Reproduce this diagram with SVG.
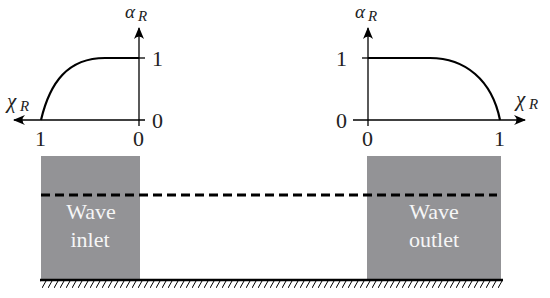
<svg xmlns="http://www.w3.org/2000/svg" width="550" height="298" viewBox="0 0 550 298">
<style>
.ax{stroke:#000;stroke-width:1.3;fill:none}
.cv{stroke:#000;stroke-width:2.2;fill:none}
.num{font-family:"Liberation Serif",serif;font-size:22px;fill:#222}
.sym{font-family:"Liberation Serif",serif;font-style:italic;font-size:21px;fill:#222}
.sub{font-family:"Liberation Serif",serif;font-style:italic;font-size:15px;fill:#222}
.box{fill:#939396}
.lab{font-family:"Liberation Serif",serif;font-size:22px;fill:#f6f6f6;text-anchor:middle}
</style>
<defs>
<marker id="ah" viewBox="0 0 12 10" refX="11" refY="5" markerWidth="12" markerHeight="10" markerUnits="userSpaceOnUse" orient="auto">
<path d="M0,0 Q5,5 0,10 L12,5 Z" fill="#000"/>
</marker>
<pattern id="hatch" x="0" y="281" width="6" height="7" patternUnits="userSpaceOnUse">
<line x1="0" y1="7" x2="4" y2="0" stroke="#000" stroke-width="1"/>
</pattern>
</defs>
<g id="inlet-box">
<rect class="box" x="41" y="156" width="99" height="124"/>
<text class="lab" x="91" y="219">Wave</text>
<text class="lab" x="90" y="247">inlet</text>
</g>
<g id="outlet-box">
<rect class="box" x="367" y="156" width="134" height="124"/>
<text class="lab" x="434" y="219">Wave</text>
<text class="lab" x="434" y="247">outlet</text>
</g>
<g id="ground">
<line x1="40" y1="280" x2="503" y2="280" stroke="#000" stroke-width="2.5"/>
<rect x="40" y="281" width="463" height="7" fill="url(#hatch)"/>
</g>
<g id="water-level">
<line x1="41" y1="195" x2="497" y2="195" stroke="#000" stroke-width="3" stroke-dasharray="9,5"/>
</g>
<g id="left-plot">
<line class="ax" x1="145" y1="120" x2="14" y2="120" marker-end="url(#ah)"/>
<line class="ax" x1="139" y1="126" x2="139" y2="28" marker-end="url(#ah)"/>
<line class="ax" x1="139" y1="58" x2="145" y2="58"/>
<path class="cv" d="M41,120 C50,82 68,58 105,58 L139,58"/>
<text class="num" x="152" y="66">1</text>
<text class="num" x="152" y="128">0</text>
<text class="num" x="35" y="146">1</text>
<text class="num" x="133" y="146">0</text>
<text class="sym" x="7" y="108">χ</text><text class="sub" x="20" y="111">R</text>
<text class="sym" x="125" y="18" style="font-size:19px">α</text><text class="sub" x="138" y="21">R</text>
</g>
<g id="right-plot">
<line class="ax" x1="353" y1="120" x2="525" y2="120" marker-end="url(#ah)"/>
<line class="ax" x1="368" y1="126" x2="368" y2="28" marker-end="url(#ah)"/>
<line class="ax" x1="362" y1="58" x2="368" y2="58"/>
<path class="cv" d="M368,58 L430,58 C465,58 492,80 500,120"/>
<text class="num" x="336" y="66">1</text>
<text class="num" x="336" y="128">0</text>
<text class="num" x="362" y="146">0</text>
<text class="num" x="494" y="146">1</text>
<text class="sym" x="516" y="106">χ</text><text class="sub" x="529" y="109">R</text>
<text class="sym" x="355" y="18" style="font-size:19px">α</text><text class="sub" x="368" y="21">R</text>
</g>
</svg>
